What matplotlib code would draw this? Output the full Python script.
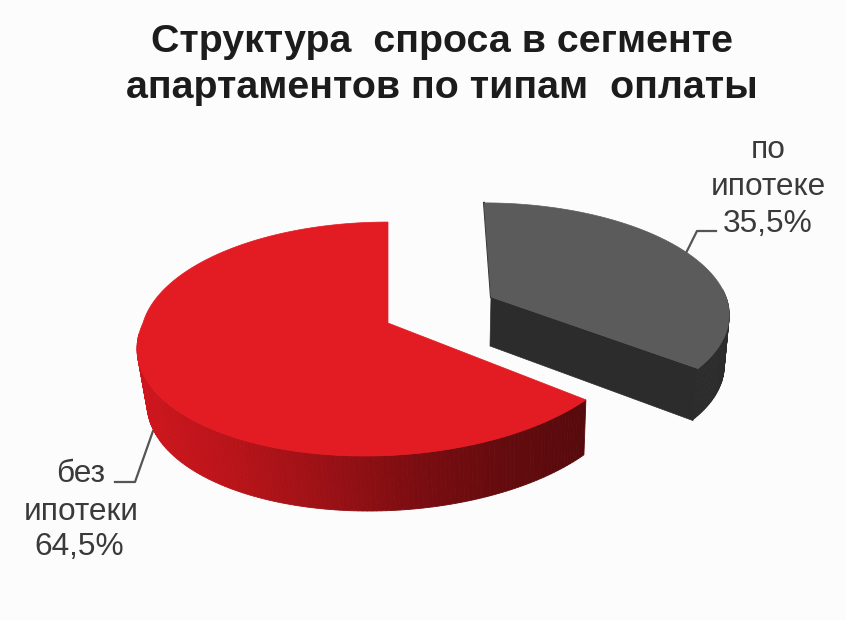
import numpy as np
import matplotlib
matplotlib.use("Agg")
import matplotlib.pyplot as plt
from matplotlib.colors import LinearSegmentedColormap
from matplotlib.patches import Polygon

# values from the chart
title_lines = ["Структура  спроса в сегменте", "апартаментов по типам  оплаты"]
label_red = ["без", "ипотеки", "64,5%"]
label_grey = ["по", "ипотеке", "35,5%"]
share_red = 64.5
share_grey = 35.5

BG = "#fcfcfc"
TEXT = "#3a3a3a"

plt.rcParams["font.family"] = ["Liberation Sans", "DejaVu Sans"]

fig = plt.figure(figsize=(8.46, 6.2), dpi=100, facecolor=BG)
ax = fig.add_axes([0, 0, 1, 1])
ax.set_xlim(0, 846)
ax.set_ylim(620, 0)
ax.axis("off")


def rim(theta_deg, cx, cy, rx, ry, k, shear_back, shear_front):
    # circle seen in perspective, far side is squeezed
    t = np.radians(theta_deg)
    w = 1 + k * np.sin(t)
    x = rx * np.cos(t) / w
    y = -ry * np.sin(t) / w
    x = x + np.where(y > 0, shear_front, shear_back) * y
    return cx + x, cy + y


def draw_wall(xs, ys, dxs, dy, cmap, z):
    # side of the pie as thin strips so the shading can change along it
    xmin, xmax = 137, 590
    for i in range(len(xs) - 1):
        col = cmap((xs[i] - xmin) / (xmax - xmin))
        quad = [(xs[i], ys[i]), (xs[i + 1], ys[i + 1]),
                (xs[i + 1] + dxs[i + 1], ys[i + 1] + dy), (xs[i] + dxs[i], ys[i] + dy)]
        ax.add_patch(Polygon(quad, closed=True, fc=col, ec=col, lw=0.6, zorder=z))


# red slice goes counter-clockwise from 12 o'clock
red_end = 90 + share_red * 3.6
th_red = np.linspace(90, red_end, 240)
red_geo = (388, 323, 245, 114.8, 0.137, 0.0, -0.175)
xr, yr = rim(th_red, *red_geo)

red_wall = LinearSegmentedColormap.from_list(
    "red_wall", ["#cf151d", "#b81419", "#9c1116", "#7c0d11", "#650b0e", "#560a0c"])
front = th_red >= 185
# wall leans inwards on the left, a bit outwards on the right
dx_red = 10 - 12 * (xr[front] - 137) / (587 - 137)
draw_wall(xr[front], yr[front], dx_red, 55, red_wall, 2)
ax.add_patch(Polygon(np.column_stack([np.r_[388, xr], np.r_[323, yr]]), closed=True,
                     fc="#e31b23", ec="#e31b23", lw=0.5, zorder=3))

# grey slice goes clockwise from 12 o'clock
grey_end = 90 - share_grey * 3.6
th_grey = np.linspace(90, grey_end, 120)
grey_geo = (491, 297, 235, 107, 0.137, 0.074, 0.06)
xg, yg = rim(th_grey, *grey_geo)

grey_dark = LinearSegmentedColormap.from_list("grey_dark", ["#2c2c2c", "#2c2c2c"])
side = th_grey <= 5
draw_wall(xg[side], yg[side], np.full(side.sum(), -5), 51, grey_dark, 2)
ax.add_patch(Polygon([(491, 297), (xg[-1], yg[-1]), (xg[-1] - 5, yg[-1] + 52), (490, 346)],
                     closed=True, fc="#2c2c2c", ec="#2c2c2c", lw=0.5, zorder=2))
ax.plot([xg[0], 491], [yg[0], 297], color="#2c2c2c", lw=1.5, zorder=2)
ax.add_patch(Polygon(np.column_stack([np.r_[491, xg], np.r_[297, yg]]), closed=True,
                     fc="#5b5b5b", ec="#5b5b5b", lw=0.5, zorder=3))

# leader lines
ax.plot([716, 697, 686], [231, 231, 253], color="#555555", lw=1.6, zorder=1)
ax.plot([115, 135, 153], [482, 482, 431], color="#555555", lw=1.6, zorder=1)

# title
for line, y in zip(title_lines, [52, 98]):
    ax.text(442, y, line, ha="center", va="baseline", fontsize=28.4,
            fontweight="bold", color="#1c1c1c")

# slice labels
for line, y in zip(label_grey, [158, 195, 232]):
    ax.text(768, y, line, ha="center", va="baseline", fontsize=22.8, color=TEXT)
for line, x, y in zip(label_red, [81, 81, 79], [482, 520, 555]):
    ax.text(x, y, line, ha="center", va="baseline", fontsize=22.8, color=TEXT)

fig.savefig("out.png", dpi=100, facecolor=BG)
